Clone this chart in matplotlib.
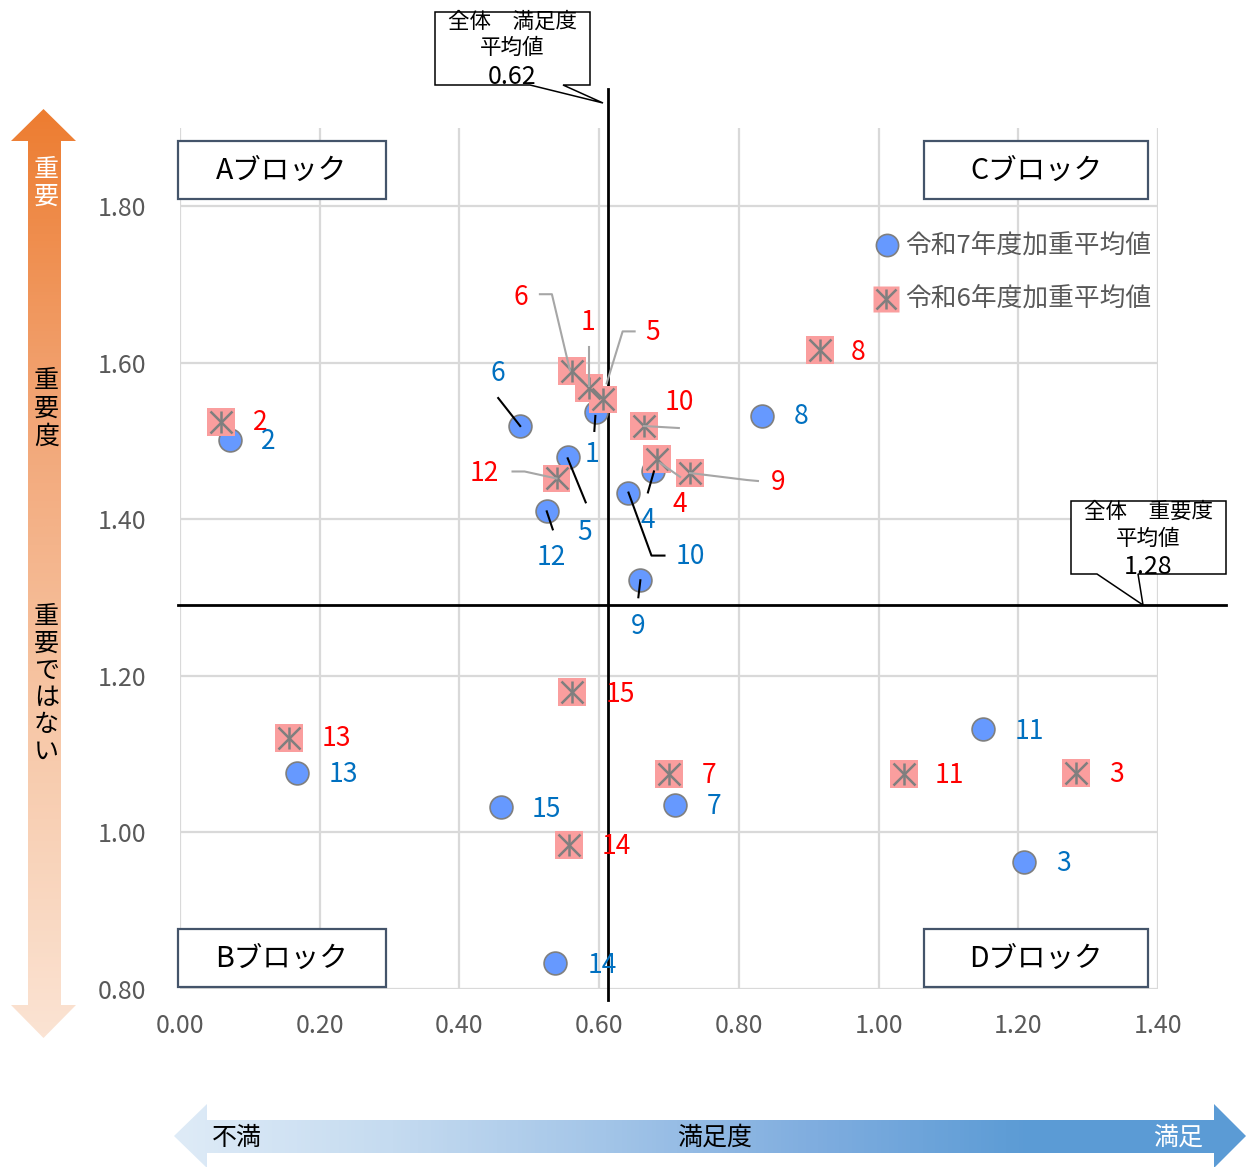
import matplotlib
matplotlib.use('Agg')
import matplotlib.pyplot as plt
import numpy as np
from matplotlib.patches import Polygon, Rectangle
from matplotlib.transforms import IdentityTransform
from matplotlib.colors import LinearSegmentedColormap

plt.rcParams['font.family'] = ['Noto Sans CJK JP', 'DejaVu Sans']

# ---------------- data ----------------
items = list(range(1, 16))
r7_sat = [0.596, 0.072, 1.208, 0.677, 0.555, 0.487, 0.709, 0.833, 0.659, 0.642, 1.149, 0.525, 0.167, 0.537, 0.459]
r7_imp = [1.537, 1.501, 0.962, 1.461, 1.479, 1.519, 1.035, 1.532, 1.322, 1.434, 1.132, 1.410, 1.076, 0.833, 1.032]
r6_sat = [0.585, 0.059, 1.283, 0.683, 0.605, 0.561, 0.700, 0.916, 0.730, 0.664, 1.036, 0.539, 0.156, 0.557, 0.561]
r6_imp = [1.568, 1.524, 1.076, 1.477, 1.553, 1.589, 1.075, 1.616, 1.459, 1.519, 1.075, 1.452, 1.121, 0.984, 1.179]
sat_mean = 0.612
imp_mean = 1.29
sat_mean_label = "0.62"
imp_mean_label = "1.28"
x_ticks = [0.0, 0.2, 0.4, 0.6, 0.8, 1.0, 1.2, 1.4]
y_ticks = [0.8, 1.0, 1.2, 1.4, 1.6, 1.8]
series_names = ["令和7年度加重平均値", "令和6年度加重平均値"]
blocks = ["Aブロック", "Bブロック", "Cブロック", "Dブロック"]

# ---------------- layout (pixel offsets of labels / leader lines) ----------------
r6_label_off = {1: (-1, -65), 2: (39, 0), 3: (40, 2), 4: (23, 46), 5: (50, -67), 6: (-51, -74),
                7: (40, 2), 8: (38, 2), 9: (88, 9), 10: (35, -24), 11: (46, 2), 12: (-72, -5),
                13: (47, 1), 14: (47, 2), 15: (48, 2)}
r6_leaders = {1: [(0, -41), (0, -2)], 6: [(-32, -77), (-20, -77), (-2, -1)],
              5: [(32, -68), (20, -68), (4, -16)], 10: [(35, 2), (0, 0)],
              4: [(3, 4), (23, 18)], 9: [(68, 8), (57, 7), (0, 0)],
              12: [(-44, -7), (-32, -7), (0, 0)]}
r7_label_off = {1: (-4, 43), 2: (38, 1), 3: (40, 1), 4: (-5, 49), 5: (17, 75), 6: (-22, -53),
                7: (39, 2), 8: (39, 1), 9: (-2, 46), 10: (62, 64), 11: (47, 2), 12: (5, 46),
                13: (47, 2), 14: (47, 2), 15: (46, 2)}
r7_leaders = {1: [(-1, 4), (-2, 19)], 6: [(-22, -28), (0, 0)], 5: [(0, 1), (18, 45)],
              12: [(0, 0), (6, 18)], 4: [(1, 0), (-5, 21)], 10: [(0, 0), (23, 63), (36, 63)],
              9: [(0, 0), (-2, 17)]}

W, H = 1248, 1167
fig = plt.figure(figsize=(W / 100, H / 100), dpi=100)

X0, X1, YT, YB = 180, 1158, 127.7, 989
ax = fig.add_axes([X0 / W, 1 - YB / H, (X1 - X0) / W, (YB - YT) / H])
ax.set_xlim(0, 1.4)
ax.set_ylim(0.8, 1.9)
for s in ax.spines.values():
    s.set_visible(False)
ax.set_xticks(x_ticks)
ax.set_xticklabels([f"{v:.2f}" for v in x_ticks])
ax.set_yticks(y_ticks)
ax.set_yticklabels([f"{v:.2f}" for v in y_ticks])
ax.tick_params(axis='both', length=0, labelsize=18, labelcolor='#595959')
ax.tick_params(axis='x', pad=17)
ax.tick_params(axis='y', pad=24)
ax.grid(True, color='#D9D9D9', linewidth=1.6, zorder=0)
ax.set_axisbelow(True)

# mean lines
ax.plot([sat_mean, sat_mean], [0.786, 1.949], color='black', lw=2.0, clip_on=False, zorder=2)
ax.plot([-0.003, 1.497], [imp_mean, imp_mean], color='black', lw=2.0, clip_on=False, zorder=2)

# markers
ax.scatter(r7_sat, r7_imp, s=270, c='#6699FF', edgecolors='#7F7F7F', linewidths=1.2, zorder=3)
ax.scatter(r6_sat, r6_imp, s=400, marker='s', c='#FA9E9E', edgecolors='none', zorder=4)
ax.scatter(r6_sat, r6_imp, s=250, marker='x', c='#7F7F7F', linewidths=1.8, zorder=5)
ax.scatter(r6_sat, r6_imp, s=250, marker='|', c='#7F7F7F', linewidths=1.8, zorder=5)

fig.canvas.draw()


def draw_leader(xy, offs, color):
    d = ax.transData.transform(xy)
    xs = [d[0] + o[0] for o in offs]
    ys = [d[1] - o[1] for o in offs]
    ax.plot(xs, ys, color=color, lw=1.5, transform=IdentityTransform(), clip_on=False, zorder=6)


for i, x, y in zip(items, r6_sat, r6_imp):
    if i in r6_leaders:
        draw_leader((x, y), r6_leaders[i], '#A6A6A6')
    dx, dy = r6_label_off[i]
    ax.annotate(str(i), xy=(x, y), xytext=(dx, -dy), textcoords='offset pixels',
                ha='center', va='center', color='#FF0000', fontsize=19, zorder=7)

for i, x, y in zip(items, r7_sat, r7_imp):
    if i in r7_leaders:
        draw_leader((x, y), r7_leaders[i], 'black')
    dx, dy = r7_label_off[i]
    ax.annotate(str(i), xy=(x, y), xytext=(dx, -dy), textcoords='offset pixels',
                ha='center', va='center', color='#0070C0', fontsize=19, zorder=7)

# ---------------- overlay (pixel coordinates) ----------------
ov = fig.add_axes([0, 0, 1, 1])
ov.set_zorder(2)
ov.patch.set_visible(False)
ov.axis('off')


def grad_arrow(verts, extent, colors, vertical):
    poly = Polygon(verts, closed=True, facecolor='none', edgecolor='none')
    ov.add_patch(poly)
    cmap = LinearSegmentedColormap.from_list('g', colors)
    g = np.linspace(0, 1, 256)
    grad = g.reshape(-1, 1) if vertical else g.reshape(1, -1)
    im = ov.imshow(grad, cmap=cmap, extent=extent, aspect='auto', origin='upper',
                   interpolation='bilinear', zorder=1)
    im.set_clip_path(poly)


# vertical orange arrow
vv = [(43.5, 109), (76, 141), (61, 141), (61, 1005), (76, 1005), (43.5, 1038),
      (11, 1005), (28, 1005), (28, 141), (11, 141)]
grad_arrow(vv, (11, 76, 1038, 109), ['#ED7D31', '#F2A677', '#F7C8A8', '#FBE3D3'], True)
# horizontal blue arrow
hv = [(174, 1136), (207, 1104), (207, 1120), (1214, 1120), (1214, 1104), (1246, 1136),
      (1214, 1168), (1214, 1153), (207, 1153), (207, 1168)]
grad_arrow(hv, (174, 1246, 1168, 1104),
           ['#DEEBF7', '#C5DBF0', '#A3C5E8', '#7FADDF', '#5B9BD5', '#5B9BD5'], False)

ov.set_xlim(0, W)
ov.set_ylim(H, 0)

# arrow texts
for k, ch in enumerate("重要"):
    ov.text(46.5, 170 + 27 * k, ch, ha='center', va='center', fontsize=18, color='white')
for k, ch in enumerate("重要度"):
    ov.text(46.5, 381 + 28 * k, ch, ha='center', va='center', fontsize=18, color='black')
for k, ch in enumerate("重要ではない"):
    ov.text(46.5, 617 + 27 * k, ch, ha='center', va='center', fontsize=18, color='black')
ov.text(212, 1138, "不満", ha='left', va='center', fontsize=18, color='black')
ov.text(715, 1138, "満足度", ha='center', va='center', fontsize=18, color='black')
ov.text(1203, 1138, "満足", ha='right', va='center', fontsize=18, color='white')

# block boxes
for (x, y, w, h), name in zip([(178, 141, 208, 58), (178, 929, 208, 58),
                               (924, 141, 224, 58), (924, 929, 224, 58)], blocks):
    ov.add_patch(Rectangle((x, y), w, h, facecolor='white', edgecolor='#44546A', lw=1.6, zorder=3))
    ov.text(x + w / 2, y + h / 2 + 1, name, ha='center', va='center', fontsize=20.5, color='black', zorder=4)

# callouts
c1 = [(435, 12), (590, 12), (590, 85), (563, 85), (603, 103), (530, 85), (435, 85)]
ov.add_patch(Polygon(c1, closed=True, facecolor='white', edgecolor='black', lw=1.1, zorder=3))
for t, yy, fs in zip(["全体　満足度", "平均値", sat_mean_label], [22, 48, 77], [15.5, 15.5, 18]):
    ov.text(512, yy, t, ha='center', va='center', fontsize=fs, color='black', zorder=4)
c2 = [(1071, 501), (1226, 501), (1226, 574), (1138, 574), (1143, 605), (1097, 574), (1071, 574)]
ov.add_patch(Polygon(c2, closed=True, facecolor='white', edgecolor='black', lw=1.1, zorder=3))
for t, yy, fs in zip(["全体　重要度", "平均値", imp_mean_label], [512, 539, 567], [15.5, 15.5, 18]):
    ov.text(1148, yy, t, ha='center', va='center', fontsize=fs, color='black', zorder=4)

# legend
ov.plot([887], [245], marker='o', ms=16, mfc='#6699FF', mec='#7F7F7F', mew=1.2, zorder=4)
ov.plot([886], [299], marker='s', ms=19, mfc='#FA9E9E', mec='none', zorder=4)
ov.plot([886], [299], marker='x', ms=15, mec='#7F7F7F', mew=1.8, zorder=5)
ov.plot([886], [299], marker='|', ms=15, mec='#7F7F7F', mew=1.8, zorder=5)
ov.text(905, 246, series_names[0], ha='left', va='center', fontsize=18.5, color='#595959', zorder=4)
ov.text(905, 299, series_names[1], ha='left', va='center', fontsize=18.5, color='#595959', zorder=4)

fig.savefig('out.png', dpi=100)
